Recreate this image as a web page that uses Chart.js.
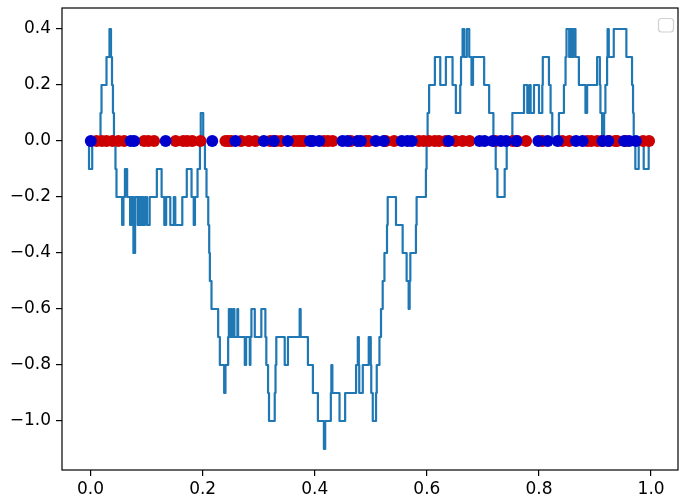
<!DOCTYPE html>
<html>
<head>
<meta charset="utf-8">
<script src="https://cdn.jsdelivr.net/npm/chart.js@4"></script>
<style>
  html, body { margin: 0; padding: 0; background: #fff; overflow: hidden; }
  #wrap { width: 684px; height: 498px; }
</style>
</head>
<body>
<div id="wrap"><canvas id="walkChart" width="684" height="498"></canvas></div>
<script>
// Step path of the walk: value changes at each x and holds until the next one
const stepX = [
  -0.0036, -0.0027, 0.0030, 0.0178, 0.0196, 0.0285, 0.0338, 0.0365, 0.0383, 0.0400,
  0.0418, 0.0445, 0.0463, 0.0564, 0.0587, 0.0614, 0.0653, 0.0706, 0.0730, 0.0765,
  0.0795, 0.0841, 0.0859, 0.0884, 0.0898, 0.0913, 0.0929, 0.0943, 0.0973, 0.1009,
  0.1055, 0.1183, 0.1268, 0.1316, 0.1349, 0.1423, 0.1486, 0.1512, 0.1637, 0.1717,
  0.1802, 0.1841, 0.1863, 0.1909, 0.1952, 0.1966, 0.2010, 0.2041, 0.2069, 0.2100,
  0.2117, 0.2129, 0.2158, 0.2277, 0.2307, 0.2384, 0.2407, 0.2455, 0.2468, 0.2485,
  0.2503, 0.2521, 0.2544, 0.2567, 0.2620, 0.2633, 0.2752, 0.2775, 0.2841, 0.2852,
  0.2870, 0.2930, 0.3047, 0.3119, 0.3136, 0.3167, 0.3184, 0.3286, 0.3300, 0.3314,
  0.3464, 0.3522, 0.3731, 0.3748, 0.3878, 0.3967, 0.4056, 0.4163, 0.4186, 0.4287,
  0.4296, 0.4314, 0.4442, 0.4542, 0.4738, 0.4768, 0.4786, 0.4794, 0.4857, 0.4963,
  0.4999, 0.5008, 0.5035, 0.5093, 0.5106, 0.5154, 0.5182, 0.5212, 0.5243, 0.5289,
  0.5301, 0.5449, 0.5568, 0.5639, 0.5675, 0.5693, 0.5705, 0.5805, 0.5817, 0.5983,
  0.5995, 0.6013, 0.6040, 0.6143, 0.6239, 0.6339, 0.6458, 0.6517, 0.6595, 0.6609,
  0.6637, 0.6667, 0.6713, 0.6756, 0.6796, 0.6823, 0.7022, 0.7111, 0.7187, 0.7228,
  0.7258, 0.7388, 0.7424, 0.7525, 0.7733, 0.7792, 0.7828, 0.7851, 0.7911, 0.8000,
  0.8059, 0.8068, 0.8178, 0.8207, 0.8237, 0.8356, 0.8445, 0.8474, 0.8491, 0.8539,
  0.8552, 0.8575, 0.8587, 0.8610, 0.8619, 0.8651, 0.8712, 0.8829, 0.8859, 0.9037,
  0.9086, 0.9096, 0.9126, 0.9162, 0.9185, 0.9215, 0.9224, 0.9245, 0.9334, 0.9559,
  0.9660, 0.9678, 0.9690, 0.9719, 0.9779, 0.9868, 0.9957, 1.0000
];
const stepY = [
  0.0, -0.1, 0.0, 0.1, 0.2, 0.3, 0.4, 0.3, 0.2, 0.1,
  0.0, -0.1, -0.2, -0.3, -0.2, -0.1, -0.2, -0.3, -0.2, -0.4,
  -0.2, -0.3, -0.2, -0.3, -0.2, -0.3, -0.2, -0.3, -0.2, -0.3,
  -0.2, -0.1, -0.2, -0.3, -0.2, -0.3, -0.2, -0.3, -0.2, -0.1,
  -0.2, -0.3, -0.2, -0.1, 0.0, 0.1, 0.0, -0.1, -0.2, -0.3,
  -0.4, -0.5, -0.6, -0.7, -0.8, -0.9, -0.8, -0.7, -0.6, -0.7,
  -0.6, -0.7, -0.6, -0.7, -0.6, -0.7, -0.8, -0.7, -0.8, -0.7,
  -0.6, -0.7, -0.6, -0.7, -0.8, -0.9, -1.0, -0.9, -0.8, -0.7,
  -0.8, -0.7, -0.6, -0.7, -0.8, -0.9, -1.0, -1.1, -1.0, -0.9,
  -0.8, -0.9, -1.0, -0.9, -0.8, -0.7, -0.8, -0.9, -0.8, -0.7,
  -0.8, -0.9, -1.0, -0.9, -0.8, -0.7, -0.6, -0.5, -0.4, -0.3,
  -0.2, -0.3, -0.4, -0.5, -0.6, -0.5, -0.4, -0.3, -0.2, -0.1,
  0.0, 0.1, 0.2, 0.3, 0.2, 0.3, 0.2, 0.1, 0.2, 0.3,
  0.4, 0.3, 0.4, 0.3, 0.2, 0.3, 0.2, 0.1, 0.0, -0.1,
  -0.2, -0.1, 0.0, 0.1, 0.2, 0.1, 0.2, 0.1, 0.2, 0.1,
  0.2, 0.3, 0.2, 0.1, 0.0, 0.1, 0.2, 0.3, 0.4, 0.3,
  0.4, 0.3, 0.4, 0.3, 0.4, 0.3, 0.2, 0.1, 0.2, 0.3,
  0.2, 0.1, 0.0, 0.1, 0.2, 0.3, 0.4, 0.3, 0.4, 0.3,
  0.2, 0.1, 0.0, -0.1, 0.0, -0.1, 0.0, 0.0
];

// Event times, drawn as dots on the zero line
const redX = [
  0.0107, 0.0201, 0.0285, 0.0391, 0.0498, 0.0600, 0.0956, 0.1032, 0.1133, 0.1518,
  0.1655, 0.1726, 0.1815, 0.1963, 0.2407, 0.2456, 0.2509, 0.2687, 0.2824, 0.2941,
  0.3203, 0.3310, 0.3399, 0.3630, 0.3701, 0.3754, 0.3808, 0.4164, 0.4235, 0.4319,
  0.4644, 0.4911, 0.4964, 0.5267, 0.5415, 0.5859, 0.5943, 0.6037, 0.6139, 0.6215,
  0.6335, 0.6512, 0.6637, 0.6762, 0.7224, 0.7532, 0.7616, 0.7770, 0.8060, 0.8416,
  0.8541, 0.8861, 0.8932, 0.9039, 0.9128, 0.9253, 0.9359, 0.9395, 0.9550, 0.9858,
  0.9964
];
const blueX = [
  0.0005, 0.0717, 0.0778, 0.1340, 0.2171, 0.2585, 0.3091, 0.3269, 0.3518, 0.3915,
  0.3963, 0.4080, 0.4496, 0.4585, 0.4763, 0.4822, 0.5089, 0.5231, 0.5552, 0.5653,
  0.5730, 0.6388, 0.6940, 0.7028, 0.7176, 0.7319, 0.7415, 0.7598, 0.7989, 0.8155,
  0.8333, 0.8660, 0.8778, 0.9133, 0.9235, 0.9520, 0.9609, 0.9728
];

const xTicks = [0.0, 0.2, 0.4, 0.6, 0.8, 1.0];
const yTicks = [0.4, 0.2, 0.0, -0.2, -0.4, -0.6, -0.8, -1.0];

const tickFont = { family: 'DejaVu Sans', size: 17 };
const fmt = v => Number(v).toFixed(1).replace('-', '\u2212');

// full box around the plot plus the empty legend frame in the corner
const frame = {
  id: 'frame',
  afterDraw(chart) {
    const { ctx, chartArea: a } = chart;
    ctx.save();
    ctx.strokeStyle = '#000';
    ctx.lineWidth = 1.2;
    ctx.strokeRect(a.left, a.top, a.right - a.left, a.bottom - a.top);
    ctx.fillStyle = 'rgba(255,255,255,0.8)';
    ctx.strokeStyle = '#d0d0d0';
    ctx.lineWidth = 1.2;
    ctx.beginPath();
    ctx.roundRect(658.5, 18.5, 15, 13.5, 3);
    ctx.fill();
    ctx.stroke();
    ctx.restore();
  }
};

const ctx = document.getElementById('walkChart').getContext('2d');
new Chart(ctx, {
  type: 'scatter',
  data: {
    datasets: [
      {
        label: 'down',
        data: blueX.map(x => ({ x: x, y: 0 })),
        backgroundColor: '#0000cc',
        borderColor: '#0000cc',
        pointRadius: 6,
        pointBorderWidth: 0,
        order: 1
      },
      {
        label: 'up',
        data: redX.map(x => ({ x: x, y: 0 })),
        backgroundColor: '#cc0000',
        borderColor: '#cc0000',
        pointRadius: 6,
        pointBorderWidth: 0,
        order: 2
      },
      {
        label: 'walk',
        data: stepX.map((x, i) => ({ x: x, y: stepY[i] })),
        showLine: true,
        stepped: true,
        fill: false,
        borderColor: '#1f77b4',
        borderWidth: 2.2,
        borderJoinStyle: 'round',
        pointRadius: 0,
        order: 3
      }
    ]
  },
  options: {
    responsive: false,
    animation: false,
    devicePixelRatio: 1,
    layout: { padding: { top: 8, right: 2, left: 0, bottom: 0 } },
    plugins: {
      legend: { display: false },
      tooltip: { enabled: false }
    },
    scales: {
      x: {
        type: 'linear',
        min: -0.0509,
        max: 1.048,
        afterBuildTicks: s => { s.ticks = xTicks.map(v => ({ value: v })); },
        afterFit: s => { s.height = 28; s.paddingLeft = 0; s.paddingRight = 0; },
        ticks: { callback: fmt, color: '#000', font: tickFont, padding: 3, maxRotation: 0, autoSkip: false },
        grid: { drawOnChartArea: false, drawTicks: true, tickLength: 6, color: '#000', lineWidth: 1.2 },
        border: { display: false }
      },
      y: {
        type: 'linear',
        min: -1.175,
        max: 0.475,
        afterBuildTicks: s => { s.ticks = yTicks.map(v => ({ value: v })); },
        afterFit: s => { s.width = 62; s.paddingTop = 0; s.paddingBottom = 0; },
        ticks: { callback: fmt, color: '#000', font: tickFont, padding: 5, autoSkip: false },
        grid: { drawOnChartArea: false, drawTicks: true, tickLength: 6, color: '#000', lineWidth: 1.2 },
        border: { display: false }
      }
    }
  },
  plugins: [frame]
});
</script>
</body>
</html>
